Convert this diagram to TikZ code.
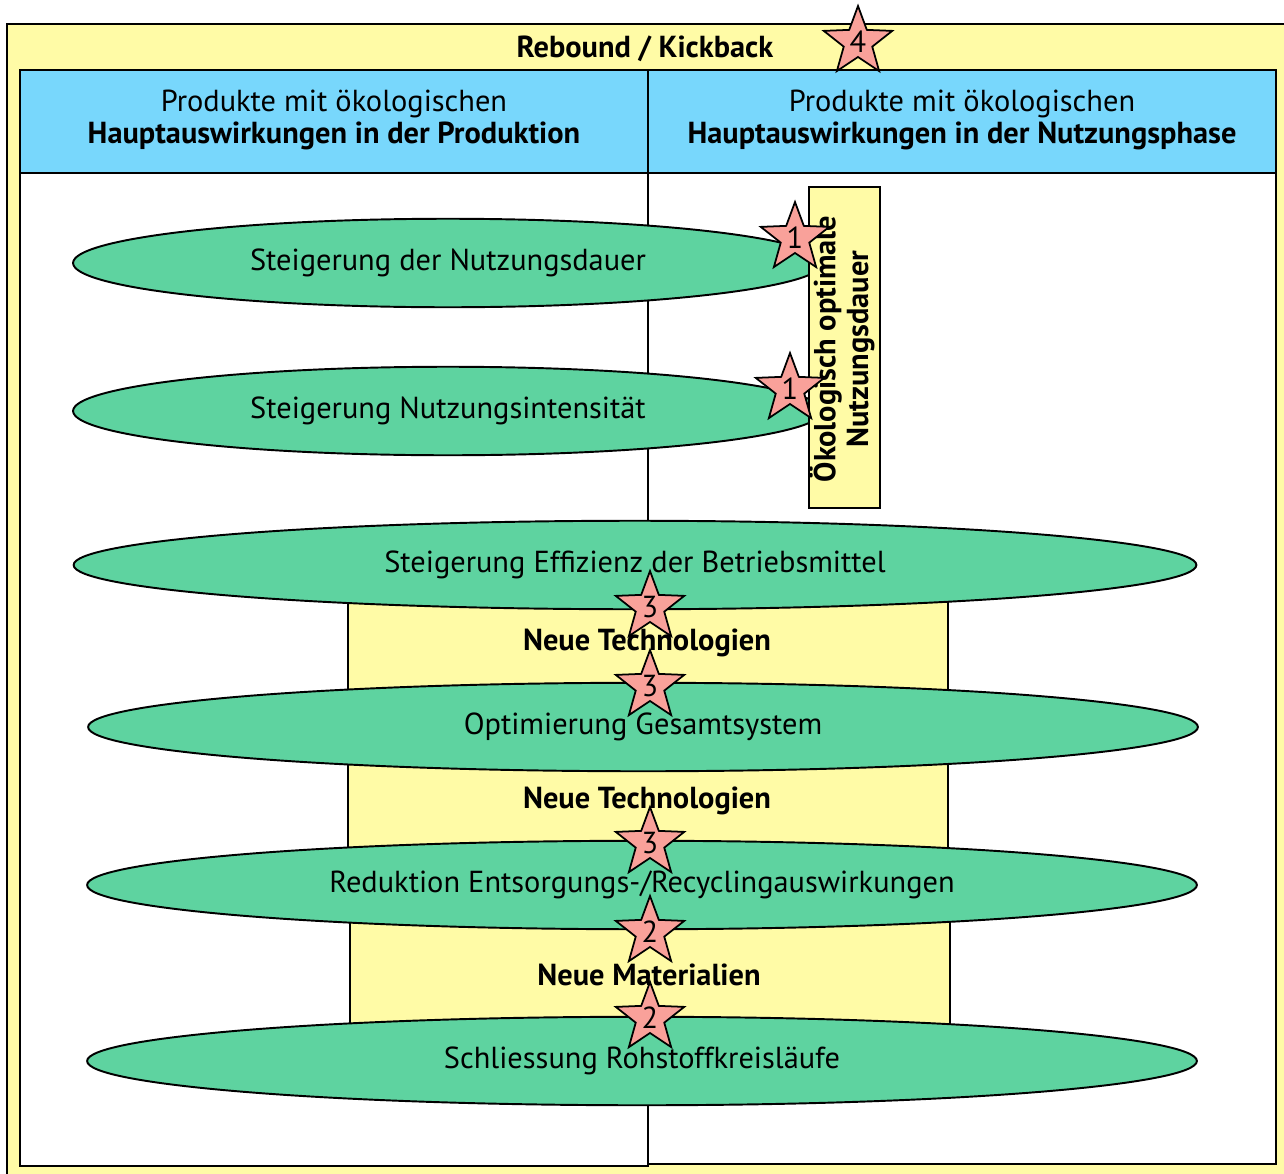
\documentclass[tikz,border=0pt]{standalone}
\usepackage{fontspec}
\setmainfont{PT Sans}
\usetikzlibrary{shapes.geometric}
\definecolor{paleyellow}{HTML}{FFFBA6}
\definecolor{skyblue}{HTML}{78D7FC}
\definecolor{mint}{HTML}{5ED3A0}
\definecolor{salmon}{HTML}{F9A19A}
\newcommand{\basefont}{\fontsize{17.3}{18.6}\selectfont}
\begin{document}
\begin{tikzpicture}[x=0.02cm,y=-0.02cm,
  txt/.style={font=\basefont, inner sep=0pt},
  bold/.style={font=\basefont\bfseries, inner sep=0pt},
  frame/.style={draw, line width=1.1pt},
  header/.style={frame, fill=skyblue},
  goal/.style={ellipse, frame, fill=mint, inner sep=0pt,
    font=\basefont, minimum height=1.77cm},
  band/.style={frame, fill=paleyellow},
  marker/.style={star, star points=5, star point ratio=2.4, draw, line width=1pt,
    fill=salmon, minimum size=1.44cm, inner sep=-3pt,
    font=\fontsize{17.3}{17.3}\selectfont}]
\useasboundingbox (0,0) rectangle (1284,1173);

% outer rebound frame
\draw[band] (7,24) rectangle (1300,1195);
\node[bold] (rebound) at (645,49) {Rebound / Kickback};

% the two columns
\draw[frame, fill=white] (20,173) rectangle (648,1166);
\draw[frame, fill=white] (648,173) rectangle (1276,1164);
\draw[header] (20,70) rectangle (648,173);
\draw[header] (648,70) rectangle (1276,173);
\node[txt, align=center] (hprod) at (334,120) {Produkte mit ökologischen\\\textbf{Hauptauswirkungen in der Produktion}};
\node[txt, align=center] (hnutz) at (962,120) {Produkte mit ökologischen\\\textbf{Hauptauswirkungen in der Nutzungsphase}};

% bands between the strategies
\draw[band] (348,590) rectangle (948,700);
\draw[band] (348,760) rectangle (948,855);
\draw[band] (350,915) rectangle (950,1030);
\node[bold] (tech1) at (647,643) {Neue Technologien};
\node[bold] (tech2) at (647,801) {Neue Technologien};
\node[bold] (mat) at (649,975) {Neue Materialien};

% strategies
\node[goal, minimum width=15cm] (dauer) at (448,263) {Steigerung der Nutzungsdauer};
\node[goal, minimum width=15cm] (intens) at (448,411) {Steigerung Nutzungsintensität};
\node[goal, minimum width=22.46cm] (effiz) at (635,565) {Steigerung Effizienz der Betriebsmittel};
\node[goal, minimum width=22.2cm] (gesamt) at (643,727) {Optimierung Gesamtsystem};
\node[goal, minimum width=22.2cm] (entsorg) at (642,885) {Reduktion Entsorgungs-/Recyclingauswirkungen};
\node[goal, minimum width=22.2cm] (kreis) at (642,1061) {Schliessung Rohstoffkreisläufe};

% optimal service life bar
\node[band, anchor=north west, minimum width=1.42cm, minimum height=6.42cm, inner sep=0pt] (optbox) at (808,186) {};
\node[bold, rotate=90, align=center] (opttxt) at (842,349) {Ökologisch optimale\\Nutzungsdauer};

% markers
\node[marker] (s4) at (858,42) {4};
\node[marker] (s1a) at (795,238) {1};
\node[marker] (s1b) at (790,389) {1};
\node[marker] (s3a) at (650,607) {3};
\node[marker] (s3b) at (650,686) {3};
\node[marker] (s3c) at (650,843) {3};
\node[marker] (s2a) at (650,932) {2};
\node[marker] (s2b) at (650,1018) {2};
\end{tikzpicture}
\end{document}
